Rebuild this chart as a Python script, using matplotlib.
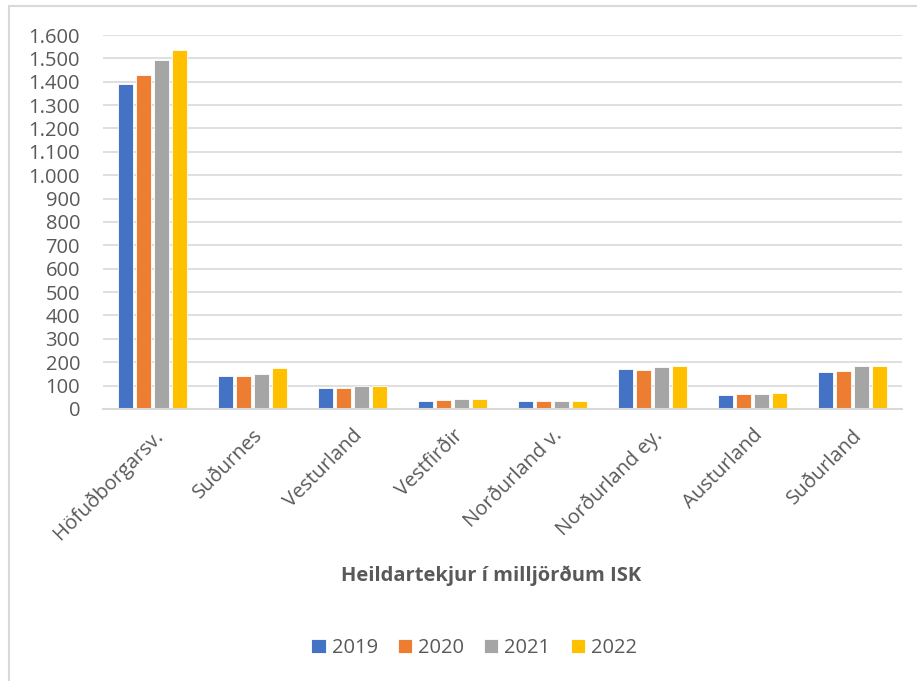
import numpy as np
import matplotlib.pyplot as plt
from matplotlib.patches import Rectangle
from matplotlib.ticker import FuncFormatter

plt.rcParams['font.family'] = ['Open Sans', 'DejaVu Sans']

regions = ["Höfuðborgarsv.", "Suðurnes", "Vesturland", "Vestfirðir",
           "Norðurland v.", "Norðurland ey.", "Austurland", "Suðurland"]
years = ["2019", "2020", "2021", "2022"]
v2019 = [1391, 143, 90, 36, 35, 170, 58, 158]
v2020 = [1428, 139, 90, 39, 35, 168, 62, 164]
v2021 = [1493, 149, 100, 41, 36, 180, 65, 184]
v2022 = [1536, 175, 100, 41, 36, 183, 67, 184]
colors = ["#4472C4", "#ED7D31", "#A5A5A5", "#FFC000"]

txt = "#595959"
grid = "#D9D9D9"

fig = plt.figure(figsize=(9.17, 6.81), dpi=100)
ax = fig.add_axes([0.1123, 0.3995, 0.8714, 0.5491])

x = np.arange(len(regions))
step = 0.18
for j, (vals, c, yr) in enumerate(zip([v2019, v2020, v2021, v2022], colors, years)):
    ax.bar(x + (j - 1.5) * step, vals, width=0.15, color=c, label=yr,
           edgecolor="white", linewidth=0.6, zorder=3)

ax.set_xlim(-0.5, len(regions) - 0.5)
ax.set_ylim(0, 1600)
ax.set_yticks(range(0, 1601, 100))
ax.yaxis.set_major_formatter(FuncFormatter(lambda v, p: f"{int(v):,}".replace(",", ".")))
ax.grid(axis="y", color=grid, linewidth=1.2, zorder=0)
for s in ["top", "right", "left"]:
    ax.spines[s].set_visible(False)
ax.spines["bottom"].set_color(grid)
ax.spines["bottom"].set_linewidth(1.5)
ax.spines["bottom"].set_zorder(4)
ax.tick_params(length=0, labelsize=14.5, labelcolor=txt)
ax.tick_params(axis="y", pad=16.5)
ax.set_xticks(x)
ax.set_xticklabels(regions, rotation=45, ha="right", rotation_mode="anchor")
ax.tick_params(axis="x", pad=12)

fig.text(0.536, 1 - 576 / 681, "Heildartekjur í milljörðum ISK", ha="center", va="center",
         fontsize=14.5, fontweight="bold", color=txt)

fig.legend(loc="center", bbox_to_anchor=(0.517, 1 - 648 / 681), ncol=4, frameon=False,
           fontsize=14.5, labelcolor=txt, handlelength=0.7, handleheight=0.7,
           handletextpad=0.3, columnspacing=1.0)

fig.patches.append(Rectangle((9 / 917, -0.1), 1.2, 1.1 - 6 / 681, transform=fig.transFigure,
                             fill=False, edgecolor=grid, linewidth=1.5))

fig.savefig("out.png", dpi=100)
